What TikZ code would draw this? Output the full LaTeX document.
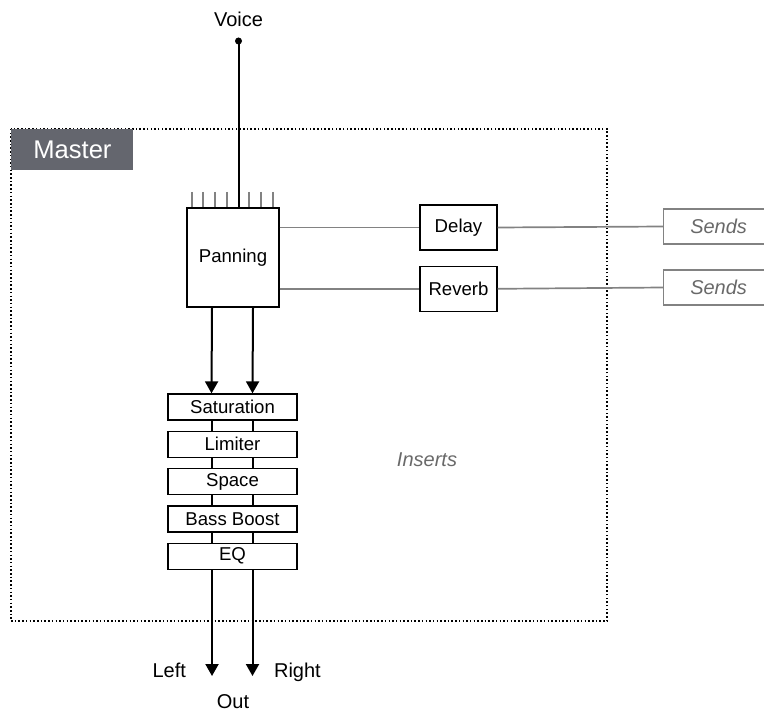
\documentclass[tikz,border=0pt]{standalone}
\usepackage{fontspec}
\setmainfont{Liberation Sans}
\usetikzlibrary{arrows.meta,positioning}
\definecolor{mastergrey}{RGB}{100,102,110}
\definecolor{sendgrey}{RGB}{130,130,130}
\definecolor{textgrey}{RGB}{105,105,105}

\begin{document}
\begin{tikzpicture}[
    x=0.5pt, y=-0.5pt,
    unit/.style={rectangle, draw=black, fill=white, line width=0.65pt,
        inner sep=0pt, font=\fontsize{9.3}{11}\selectfont},
    insert/.style={unit, minimum width=64.5pt, minimum height=13pt},
    fx/.style={unit, minimum width=38.5pt, minimum height=22.5pt},
    sendbox/.style={rectangle, draw=sendgrey, line width=0.6pt, inner sep=0pt,
        minimum width=55pt, minimum height=17.5pt, text=textgrey,
        font=\fontsize{10}{12}\selectfont\itshape},
    sendline/.style={draw=sendgrey, line width=0.85pt},
    sig/.style={line width=1pt, -{Triangle[length=6pt,width=6.5pt]}},
    lbl/.style={font=\fontsize{10}{12}\selectfont},
    >=Stealth
]
\useasboundingbox (0,0) rectangle (764,711);

% master bus frame
\draw[line width=0.65pt, dash pattern=on 0.75pt off 1.1pt] (11,129) rectangle (607,621);
\node[fill=mastergrey, text=white, anchor=north west, inner sep=0pt,
    minimum width=61pt, minimum height=20.5pt,
    font=\fontsize{12.8}{14}\selectfont] (master) at (11,129) {Master};
\node[lbl, text=textgrey, font=\fontsize{10}{12}\selectfont\itshape] (inserts) at (427,460) {Inserts};

% input
\node[lbl, anchor=base] (voice) at (238.5,27) {Voice};
\node[unit, minimum width=46pt, minimum height=49.5pt] (pan) at (233,257.5) {Panning};
\coordinate (vin) at (238.5,41);
\draw[line width=1pt] (vin) -- (pan.north -| vin);
\fill (vin) circle (3.5);
\foreach \tx in {192,203,215,227,249,261,273}
    \draw[sendgrey, line width=0.6pt] (\tx,192) -- (\tx,207);

% sends
\node[fx] (delay) at (458.5,227.5) {Delay};
\node[fx, below=7.5pt of delay] (reverb) {Reverb};
\node[sendbox, anchor=west] (senda) at (663,226.5) {Sends};
\node[sendbox, anchor=west] (sendb) at (663,287.5) {Sends};
\draw[sendline] (pan.east |- delay.west) -- (delay.west);
\draw[sendline] (pan.east |- reverb.west) -- (reverb.west);
\draw[sendline] (delay.east) -- (senda.west);
\draw[sendline] (reverb.east) -- (sendb.west);

% insert chain
\node[insert] (sat) at (232.5,407) {Saturation};
\node[insert, below=5pt of sat] (lim) {Limiter};
\node[insert, below=5pt of lim] (space) {Space};
\node[insert, below=5pt of space] (bass) {Bass Boost};
\node[insert, below=5pt of bass] (eq) {EQ};
\foreach \sh in {-10.5pt,10pt} {
    \draw[sig] ([xshift=\sh]pan.south) -- ([xshift=\sh]sat.north);
    \foreach \a/\b in {sat/lim,lim/space,space/bass,bass/eq}
        \draw[line width=1pt] ([xshift=\sh]\a.south) -- ([xshift=\sh]\b.north);
}

% outputs
\coordinate (outl) at (212,676);
\coordinate (outr) at (252.5,676);
\draw[sig] (eq.south -| outl) -- (outl);
\draw[sig] (eq.south -| outr) -- (outr);
\node[lbl, anchor=base east] (left) at (193,677) {Left};
\node[lbl, anchor=base west] (right) at (267,677) {Right};
\node[lbl, anchor=base] (out) at (233,708) {Out};
\end{tikzpicture}
\end{document}
